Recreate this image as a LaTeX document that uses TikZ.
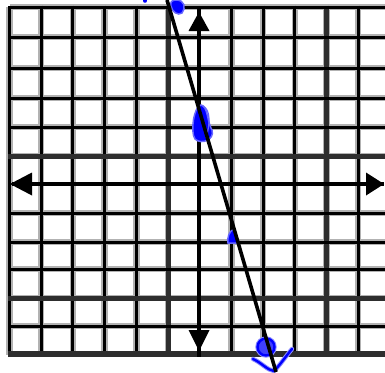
\documentclass[tikz,border=0pt]{standalone}
\begin{document}
\begin{tikzpicture}[x=1pt,y=-1pt,
  halo/.style={draw=black!30,line width=6.5pt},
  gline/.style={draw=black,line width=3pt},
  dline/.style={draw=black!82,line width=5pt},
  axis/.style={draw=black,line width=4pt},
  head/.style={fill=black,draw=none},
  ink/.style={draw=blue,line width=2.4pt,line cap=round,line join=round},
  inkhalo/.style={draw=blue!45,line width=4.4pt,line cap=round,line join=round},
  inkfill/.style={fill=blue,draw=blue!60,line width=1.5pt}]
\useasboundingbox (0,0) rectangle (385,372);
\fill[white] (0,0) rectangle (385,372);
% grid: halos
\foreach \x in {9.5,41.2,72.9,104.6,136.3,168,231.4,263.1,294.8,326.5,358.2}
  \draw[halo] (\x,7) -- (\x,355);
\foreach \y in {7,37,68,98,127,156,213,242,269,298,326}
  \draw[halo] (9.5,\y) -- (385,\y);
% grid: lines
\foreach \x in {9.5,41.2,72.9,104.6,136.3,231.4,263.1,294.8,358.2}
  \draw[gline] (\x,5.5) -- (\x,356);
\foreach \x in {168,326.5}
  \draw[dline] (\x,5.5) -- (\x,356);
\foreach \y in {7,37,68,98,127,213,242,269,326}
  \draw[gline] (8,\y) -- (385,\y);
\foreach \y in {156,298}
  \draw[dline] (8,\y) -- (385,\y);
\draw[draw=black!82,line width=6pt] (8,354) -- (385,354);
% axes
\coordinate (xl) at (12,184);
\coordinate (xr) at (384,184);
\coordinate (yt) at (199,13);
\coordinate (yb) at (199,350);
\draw[axis] (xl) -- (xr);
\draw[axis] (199,7) -- (199,357);
\fill[head] (10,184) -- (32,172.5) -- (32,195.5) -- cycle;
\fill[head] (384,184) -- (366,172.5) -- (366,195.5) -- cycle;
\fill[head] (199,12) -- (188.5,31) -- (209.5,31) -- cycle;
\fill[head] (199,351) -- (188.5,330) -- (209.5,330) -- cycle;
% blue marks
\fill[blue] (145,0.8) circle (2);
\fill[inkfill] (176,0) .. controls (185,0) and (186,8) .. (182,13) .. controls (178,16) and (172,12) .. (171,6) .. controls (170,2) and (172,0) .. (176,0) -- cycle;
\fill[inkfill] (201,105) .. controls (208,106) and (207,122) .. (212,130) .. controls (215,140) and (201,145) .. (195,139) .. controls (190,132) and (194,106) .. (201,105) -- cycle;
\draw[draw=blue!60,line width=1.2pt] (203,106) .. controls (211,110) and (210,125) .. (206,138);
\fill[inkfill] (234,229) .. controls (229,231) and (227,238) .. (228,243) -- (238,243) -- cycle;
\draw[inkhalo] (266,347) circle (8.5);
\filldraw[fill=blue!75,draw=blue,line width=2.4pt] (266,347) circle (8.5);
\draw[inkhalo] (253,359) .. controls (262,363) and (267,370) .. (274,371) .. controls (280,365) and (286,356) .. (292,349);
\draw[ink] (253,359) .. controls (262,363) and (267,370) .. (274,371) .. controls (280,365) and (286,356) .. (292,349);
% the line
\coordinate (lt) at (167,0);
\coordinate (lb) at (276,372);
\draw[draw=black,line width=3.6pt] (lt) -- (lb);
\end{tikzpicture}
\end{document}
